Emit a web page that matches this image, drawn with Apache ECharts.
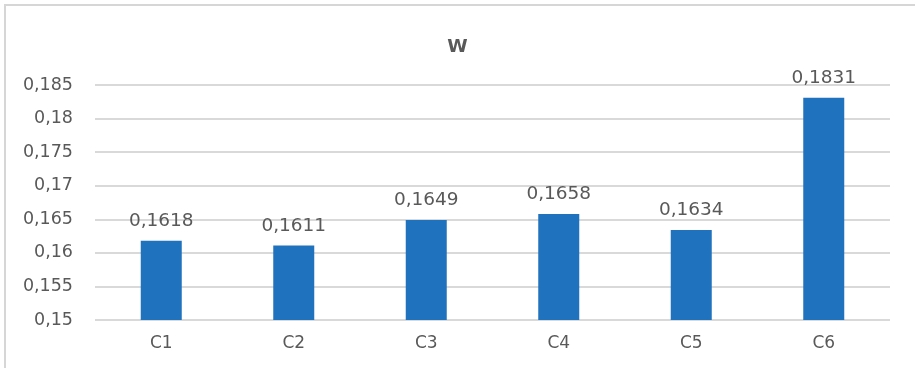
<!DOCTYPE html>
<html>
<head>
<meta charset="utf-8">
<script src="https://cdn.jsdelivr.net/npm/echarts@6/dist/echarts.min.js"></script>
<style>
  html, body { margin: 0; padding: 0; background: #fff; overflow: hidden; width: 915px; height: 368px; }
  .edge { position: absolute; background: #d6d6d6; }
  #edgeTop { left: 4px; top: 4px; width: 911px; height: 2px; }
  #edgeLeft { left: 4px; top: 4px; width: 2px; height: 364px; }
  #chart { position: absolute; left: 0; top: 0; width: 915px; height: 368px; }
</style>
</head>
<body>
<div class="edge" id="edgeTop"></div>
<div class="edge" id="edgeLeft"></div>
<div id="chart"></div>
<script>
const categories = ['C1', 'C2', 'C3', 'C4', 'C5', 'C6'];
const values = [0.1618, 0.1611, 0.1649, 0.1658, 0.1634, 0.1831];
const yMin = 0.15, yMax = 0.185, yStep = 0.005;

// decimal comma, trailing zeros dropped
const fmt = v => String(+v.toFixed(4)).replace('.', ',');
const textColor = '#595959';
const font = 'DejaVu Sans, sans-serif';

const chart = echarts.init(document.getElementById('chart'), null, { renderer: 'canvas' });
chart.setOption({
  animation: false,
  title: {
    text: 'W', left: 'center', top: 33,
    textStyle: { fontFamily: font, fontSize: 18.5, fontWeight: 'bold', color: textColor }
  },
  grid: { left: 95, right: 25, top: 85, bottom: 48 },
  xAxis: {
    type: 'category', data: categories,
    axisLine: { show: false }, axisTick: { show: false },
    axisLabel: { color: textColor, fontFamily: font, fontSize: 17, margin: 15 }
  },
  yAxis: {
    type: 'value', min: yMin, max: yMax, interval: yStep,
    axisLine: { show: false }, axisTick: { show: false },
    axisLabel: { color: textColor, fontFamily: font, fontSize: 17.5, margin: 22, formatter: fmt },
    splitLine: { lineStyle: { color: '#d9d9d9', width: 2 } }
  },
  series: [{
    type: 'bar', data: values, barWidth: 41,
    itemStyle: { color: '#1f72bd' },
    label: {
      show: true, position: 'top', distance: 10,
      color: textColor, fontFamily: font, fontSize: 18.5, formatter: p => fmt(p.value)
    }
  }]
});
</script>
</body>
</html>
